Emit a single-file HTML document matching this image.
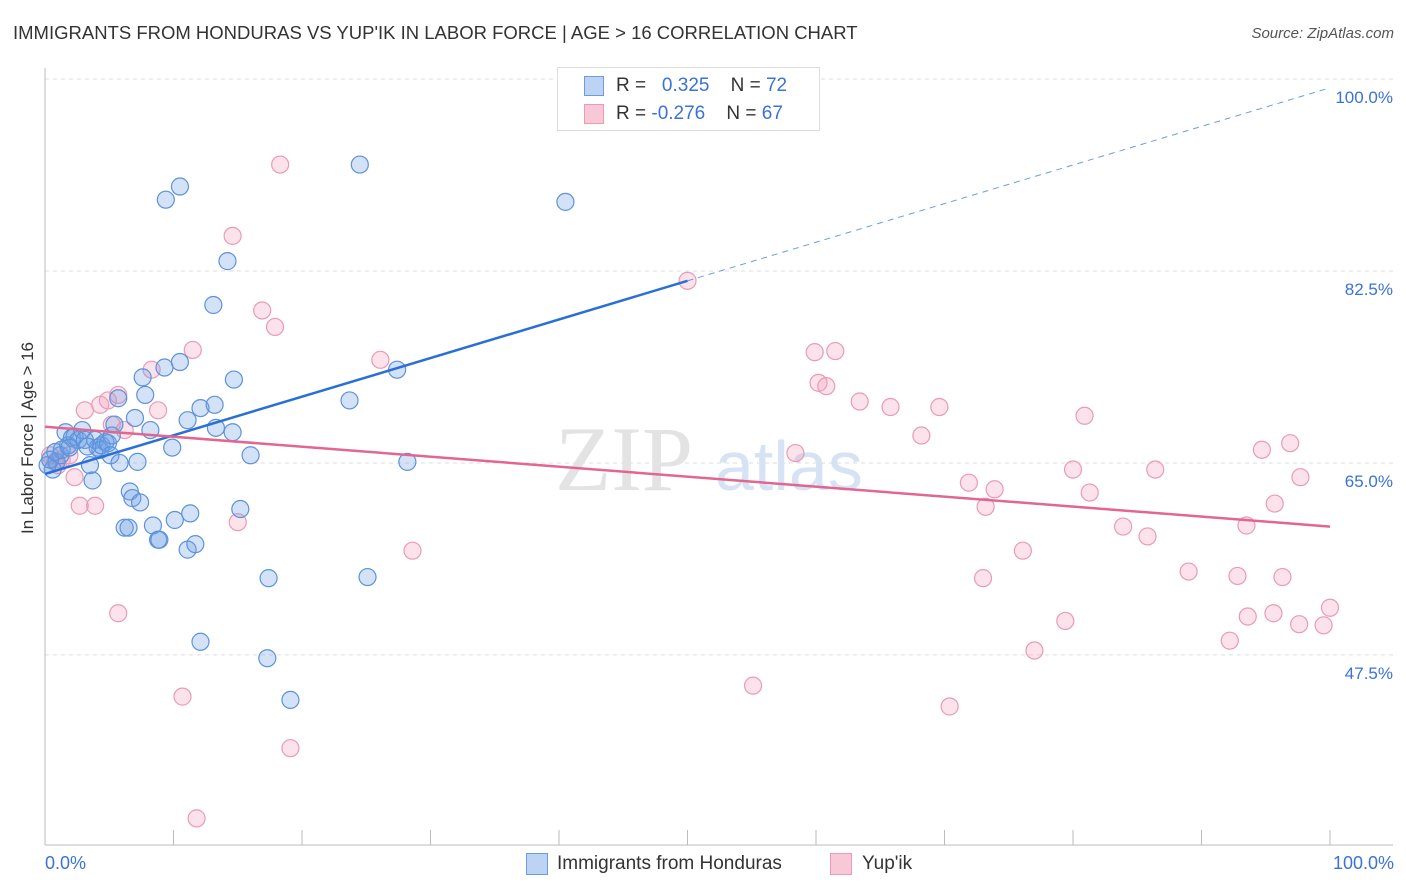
<!DOCTYPE html>
<html><head><meta charset="utf-8"><style>
body{margin:0;background:#fff;font-family:"Liberation Sans",sans-serif;}
#wrap{position:relative;width:1406px;height:892px;overflow:hidden}
.t{position:absolute;white-space:nowrap}
</style></head><body>
<div id="wrap">
<div class="t" style="left:13px;top:22px;font-size:18.5px;color:#333">IMMIGRANTS FROM HONDURAS VS YUP'IK IN LABOR FORCE | AGE &gt; 16 CORRELATION CHART</div>
<div class="t" style="right:12px;top:25px;font-size:15px;color:#555;font-style:italic">Source: ZipAtlas.com</div>
<div class="t" style="left:-52px;top:444px;font-size:17px;color:#333;transform:rotate(-90deg);transform-origin:center;width:160px;text-align:center">In Labor Force | Age &gt; 16</div>
<svg id="svg" width="1406" height="892" style="position:absolute;left:0;top:0"></svg>
</div>
<script>
const blueX=[.6,.9,1.2,1.3,1.6,1.8,2.1,2.3,2.6,2.9,3.1,3.5,3.7,3.9,4.1,4.3,4.4,4.7,4.9,5.1,5.2,5.4,5.7,5.8,6.2,6.5,6.6,6.8,7.0,7.2,7.4,7.6,7.8,8.2,8.4,8.8,8.9,9.3,9.4,9.9,10.1,10.5,10.5,11.1,11.1,11.3,11.7,12.1,12.1,13.1,13.2,13.3,14.2,14.6,14.7,15.2,16.0,17.3,17.4,19.1,23.7,24.5,25.1,27.4,28.2,40.5,41.5,.2,.4,.8,1.9,3.3];
const blueY=[64.4,65.1,65.7,66.2,67.8,66.6,67.3,67.4,67.1,68.0,67.1,64.8,63.4,67.1,66.4,66.2,66.6,66.9,66.8,65.7,67.5,68.5,70.9,65.0,59.1,59.1,62.4,61.8,69.1,65.1,61.4,72.8,71.2,68.0,59.3,58.0,58.0,73.7,89.0,66.4,59.8,90.2,74.2,57.1,68.9,60.4,57.6,48.7,70.0,79.4,70.3,68.2,83.4,67.8,72.6,60.8,65.7,47.2,54.5,43.4,70.7,92.2,54.6,73.5,65.1,88.8,100,64.8,65.3,66.0,66.4,66.5];
const pinkX=[.4,.8,1.0,1.3,2.3,2.7,3.1,3.9,4.3,4.9,5.2,5.7,6.2,8.3,8.8,10.7,11.5,11.8,14.6,15.0,16.9,17.9,18.3,19.1,26.1,28.6,41.5,50.0,55.1,58.4,59.9,60.2,60.8,61.5,63.4,65.8,68.2,69.6,70.4,71.9,73.0,73.2,73.9,76.1,77.0,79.4,80.0,80.9,81.3,83.9,85.8,86.4,89.0,92.2,92.8,93.6,93.5,94.7,95.6,95.7,96.3,96.9,97.6,97.7,99.5,100,5.7,1.9];
const pinkY=[65.7,65.1,64.8,65.3,63.7,61.1,69.8,61.1,70.3,70.7,68.5,51.3,68.0,73.5,69.8,43.7,75.3,32.6,85.7,59.6,78.9,77.4,92.2,39.0,74.4,57.0,100,81.6,44.7,65.9,75.1,72.3,72.0,75.2,70.6,70.1,67.5,70.1,42.8,63.2,54.5,61.0,62.6,57.0,47.9,50.6,64.4,69.3,62.3,59.2,58.3,64.4,55.1,48.8,54.7,51.0,59.3,66.2,51.3,61.3,54.6,66.8,50.3,63.7,50.2,51.8,71.2,65.7];
const blueTrend=[64.0,0.352];
const pinkTrend=[68.3,-0.091];
const yTicks=[100,82.5,65,47.5];
const yTickLabels=["100.0%","82.5%","65.0%","47.5%"];
const xTicks=[0,10,20,30,40,50,60,70,80,90,100];

const X=v=>45+v*12.85, Y=v=>79+(100-v)*10.97;
const svg=document.getElementById('svg');const NS='http://www.w3.org/2000/svg';
function mk(t,a){const e=document.createElementNS(NS,t);for(const k in a)e.setAttribute(k,a[k]);svg.appendChild(e);return e;}
yTicks.forEach((v,i)=>{
 const g=mk('line',{x1:45,x2:1393,y1:Y(v),y2:Y(v),stroke:'#ddd','stroke-dasharray':'4,4'});
 
 
 const t=mk('text',{x:1393,y:Y(v)+24,'text-anchor':'end','font-size':17,fill:'#3a72d8','font-family':'Liberation Sans'});
 t.textContent=yTickLabels[i];
 
 
});
const ax=mk('line',{x1:45,x2:45,y1:68,y2:845,stroke:'#bbb'});


const bx=mk('line',{x1:45,x2:1393,y1:845,y2:845,stroke:'#bbb'});


xTicks.forEach(v=>{const l=mk('line',{x1:X(v),x2:X(v),y1:830,y2:845,stroke:'#bbb'});
 
 });
const wm=mk('text',{x:555,y:490,'font-size':92,fill:'#e3e3e3','font-family':'Liberation Serif'});wm.textContent='ZIP';


const wm2=mk('text',{x:715,y:490,'font-size':70,fill:'#d6e3f5','font-family':'Liberation Sans'});wm2.textContent='atlas';


pinkX.forEach((v,i)=>{const c=mk('circle',{cx:X(v),cy:Y(pinkY[i]),r:8.5,fill:'rgba(243,160,190,0.3)',stroke:'#eb9ab5','stroke-width':1.2});
 
 });
blueX.forEach((v,i)=>{const c=mk('circle',{cx:X(v),cy:Y(blueY[i]),r:8.5,fill:'rgba(110,160,230,0.3)',stroke:'#5d92db','stroke-width':1.2});
 
 });
const bt=mk('line',{x1:X(0),y1:Y(blueTrend[0]),x2:X(50),y2:Y(blueTrend[0]+50*blueTrend[1]),stroke:'#2a6fd6','stroke-width':2.5});


const bd=mk('line',{x1:X(50),y1:Y(blueTrend[0]+50*blueTrend[1]),x2:X(100),y2:Y(blueTrend[0]+100*blueTrend[1]),stroke:'#6b9ee0','stroke-width':1,'stroke-dasharray':'6,5'});


const pt=mk('line',{x1:X(0),y1:Y(pinkTrend[0]),x2:X(100),y2:Y(pinkTrend[0]+100*pinkTrend[1]),stroke:'#e2668f','stroke-width':2.5});


</script>
<div style="position:absolute;left:557px;top:67px;width:261px;height:62px;border:1px solid #ddd;background:#fff;font-size:19px;color:#333">
 <div style="position:absolute;left:26px;top:8px;width:18px;height:18px;background:#bcd3f3;border:1px solid #6d9be0"></div>
 <div class="t" style="left:58px;top:7px">R = &nbsp;<span style="color:#3a72d8">&nbsp;0.325</span> &nbsp;&nbsp;&nbsp;N = <span style="color:#3a72d8">72</span></div>
 <div style="position:absolute;left:26px;top:36px;width:18px;height:18px;background:#f8c8d7;border:1px solid #eb9ab5"></div>
 <div class="t" style="left:58px;top:35px">R = <span style="color:#3a72d8">-0.276</span> &nbsp;&nbsp;&nbsp;N = <span style="color:#3a72d8">67</span></div>
</div>
<div class="t" style="left:45px;top:853px;font-size:18px;color:#3a72d8">0.0%</div>
<div class="t" style="right:12px;top:853px;font-size:18px;color:#3a72d8">100.0%</div>
<div style="position:absolute;left:526px;top:853px;width:20px;height:20px;background:#bcd3f3;border:1px solid #6d9be0"></div>
<div class="t" style="left:557px;top:853px;font-size:19px;color:#333">Immigrants from Honduras</div>
<div style="position:absolute;left:830px;top:853px;width:20px;height:20px;background:#f8c8d7;border:1px solid #eb9ab5"></div>
<div class="t" style="left:862px;top:853px;font-size:19px;color:#333">Yup'ik</div>
</body></html>
